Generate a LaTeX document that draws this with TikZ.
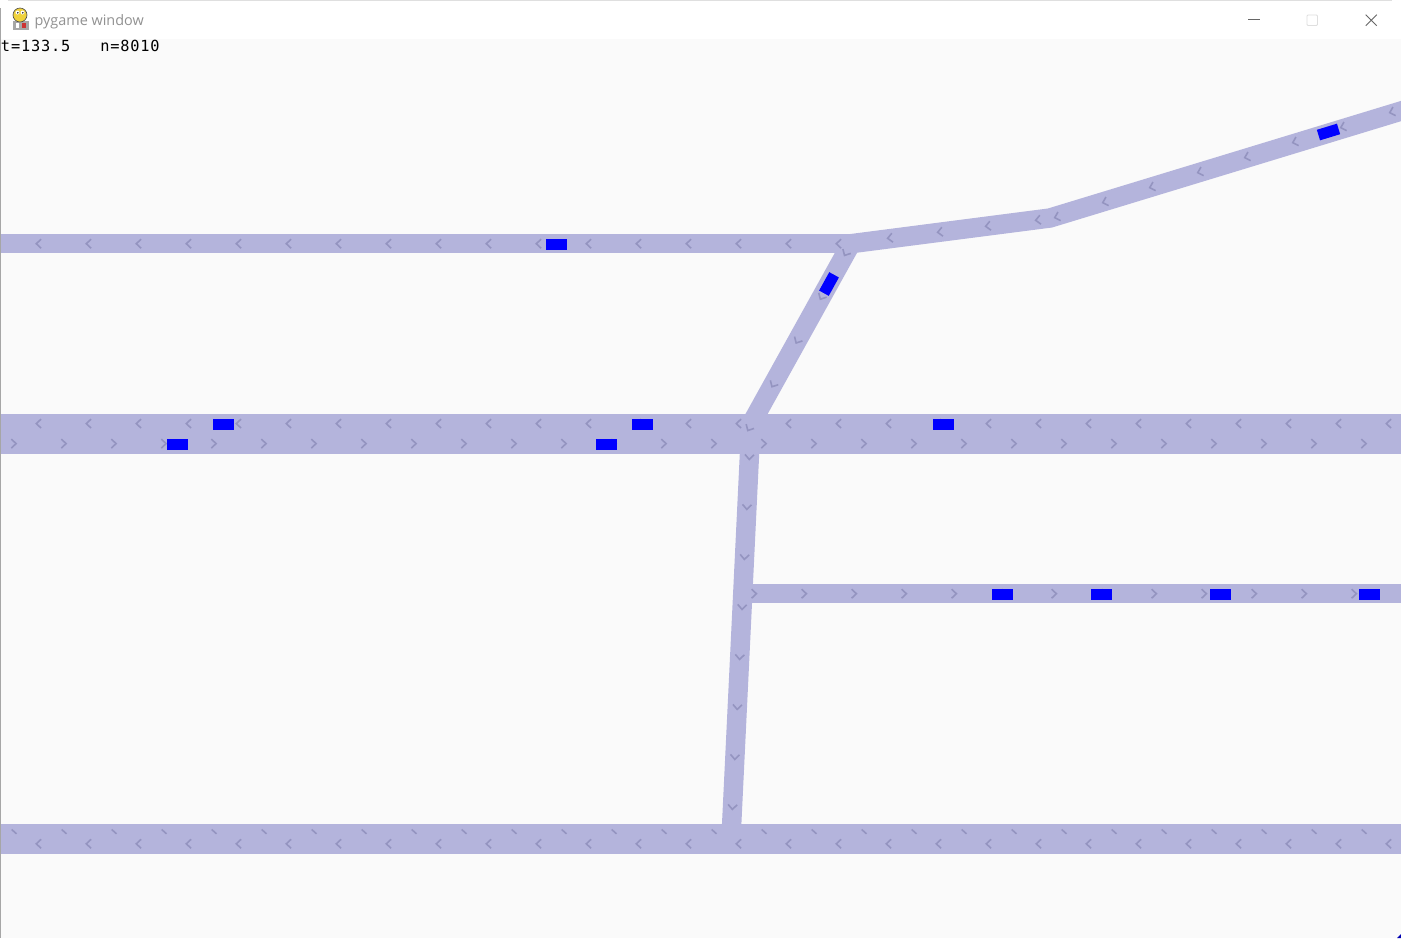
\documentclass[tikz,border=0pt]{standalone}
\usepackage{fontspec}
\newfontfamily\monof[LetterSpace=5.2]{DejaVu Sans Mono}
\newfontfamily\titlef{Open Sans}
\definecolor{roadc}{RGB}{180,180,220}
\definecolor{arrc}{RGB}{148,148,192}
\definecolor{canvasc}{RGB}{250,250,250}
\definecolor{carc}{RGB}{0,0,255}
\definecolor{titlec}{RGB}{145,145,145}
\definecolor{iconyel}{RGB}{240,210,60}
\tikzset{
  roadline/.style={draw=roadc, line width=19.4pt, line cap=butt, line join=miter},
  chevron/.pic={\draw[arrc, line width=1.6pt, line cap=butt, line join=miter] (-2.4,-4.5) -- (2.4,0) -- (-2.4,4.5);},
  carbox/.style={fill=carc, draw=none},
  ctrl/.style={line width=0.9pt}
}
\begin{document}
\begin{tikzpicture}[x=1pt,y=-1pt]
\useasboundingbox (0,0) rectangle (1401,938);
% window frame
\fill[white] (0,0) rectangle (1401,39);
\fill[canvasc] (1,39) rectangle (1401,938);
\draw[gray!70, line width=1pt] (0.5,8) -- (0.5,938);
\draw[gray!25, line width=0.8pt] (8,0.4) -- (1392,0.4);
\fill[blue!70!black] (1401,934) -- (1401,938) -- (1397,938) -- cycle;
% title bar icon
\fill[gray!70] (12.5,20.5) rectangle (28.5,29.5);
\fill[white] (15.5,22.5) rectangle (19,27.5);
\fill[red!60!gray] (22,22.5) rectangle (25.5,27.5);
\draw[black!70, fill=iconyel, line width=0.6pt] (20,15) ellipse [x radius=7, y radius=7];
\fill[white] (17.5,12.5) circle (2) (22.5,12.5) circle (2);
\fill[black] (17.8,12.8) circle (0.8) (22.8,12.8) circle (0.8);
\node[anchor=base west, inner sep=0, text=titlec, font=\titlef\fontsize{14.4}{16}\selectfont] (title) at (34.5,25.5) {pygame window};
% window controls
\draw[ctrl, gray!80!black] (1248.3,19.5) -- (1260,19.5);
\draw[ctrl, gray!25, rounded corners=1pt] (1307,15) rectangle (1317.5,25.5);
\draw[ctrl, gray!80!black] (1365.7,14.7) -- (1376.7,25.7) (1376.7,14.7) -- (1365.7,25.7);
% roads and marks, clipped to the canvas
\begin{scope}
\clip (1,39) rectangle (1401,938);
% roads
\draw[roadline] (-5,243.7) -- (851,243.7);
\draw[roadline] (851,243.7) -- (1050,218) -- (1410,108.3);
\draw[roadline] (851,243.7) -- (746,433);
\fill[roadc] (-5,414) rectangle (1410,453.6);
\draw[roadline] (750.5,433) -- (731,838);
\fill[roadc] (743,584) rectangle (1410,603.4);
\fill[roadc] (-5,824) rectangle (1410,853.7);
% arrows: top road
\foreach \k in {0,...,16} \pic[rotate=180] at (38.7+50*\k,243.7) {chevron};
% arrows: upper right road
\foreach \px/\py in {890/238,940/232,988/226,1038/220}
  \pic[rotate=-172.8] at (\px,\py) {chevron};
\foreach \px/\py in {1057/217,1105/202,1152/187,1200/172,1247/157,1295/142,1343/127,1392/112}
  \pic[rotate=-163] at (\px,\py) {chevron};
% arrows: diagonal road
\foreach \t in {11,61,111,161,211}
  \pic[rotate=-118.9] at (851-0.4836*\t,243.7+0.8753*\t) {chevron};
% arrows: middle road
\foreach \k in {0,...,27} {
  \pic[rotate=180] at (38.7+50*\k,423.6) {chevron};
  \pic at (13.7+50*\k,443.6) {chevron};
}
% arrows: near-vertical road
\foreach \k in {0,...,7}
  \pic[rotate=-92.8] at (750.5-0.04815*\k*50-0.04815*24,457+50*\k) {chevron};
% arrows: right road
\foreach \k in {0,...,12} \pic at (754+50*\k,593.7) {chevron};
% arrows: bottom road
\foreach \k in {0,...,27} {
  \pic[rotate=180] at (38.7+50*\k,843.8) {chevron};
  \draw[arrc, line width=1.6pt] (11.7+50*\k,829.5) -- (16.5+50*\k,833.8);
}
% cars
\fill[carbox] (546,239) rectangle (567,249.7);
\fill[carbox] (212.7,419) rectangle (234,429.7);
\fill[carbox] (632,419) rectangle (653,429.7);
\fill[carbox] (933,419) rectangle (954,429.7);
\fill[carbox] (167,439) rectangle (188,449.7);
\fill[carbox] (596,439) rectangle (617,449.7);
\fill[carbox] (992,589) rectangle (1013,599.7);
\fill[carbox] (1091,589) rectangle (1112,599.7);
\fill[carbox] (1210,589) rectangle (1231,599.7);
\fill[carbox] (1359,589) rectangle (1380,599.7);
\fill[carbox, rotate around={-118.9:(829,284)}] (818.5,278.5) rectangle (839.5,289.5);
\fill[carbox, rotate around={-163:(1328.5,132)}] (1318,126.5) rectangle (1339,137.5);
\end{scope}
% status text
\node[anchor=base west, inner sep=0, font=\monof\fontsize{15.3}{17}\selectfont] (stats) at (0.8,51.7) {t=133.5\ \ \ n=8010};
\end{tikzpicture}
\end{document}
